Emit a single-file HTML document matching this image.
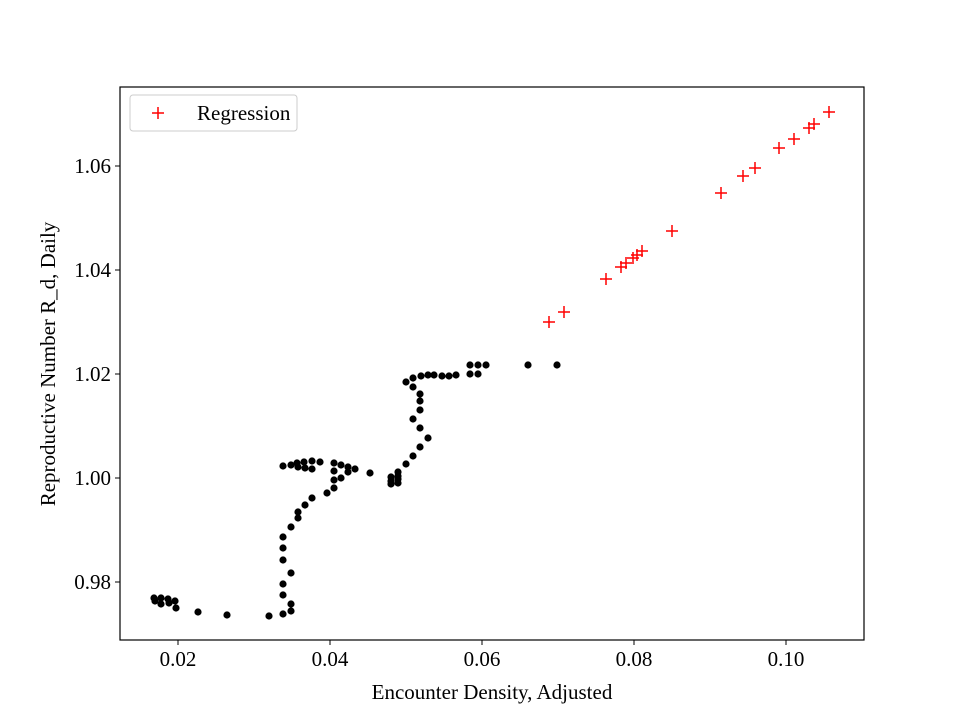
<!DOCTYPE html>
<html><head><style>body{margin:0;background:#fff}svg{display:block}text{font-family:"Liberation Serif",serif;font-size:21px;fill:#000}</style></head><body>
<svg width="960" height="720" viewBox="0 0 960 720">
<rect width="960" height="720" fill="#fff"/>
<g fill="#000" id="pts"></g>
<g stroke="red" stroke-width="1.5" id="rx"></g>
<rect x="120" y="87" width="744" height="553" fill="none" stroke="#000" stroke-width="1.2"/>
<g stroke="#000" stroke-width="1">
<line x1="178" y1="640" x2="178" y2="645"/><line x1="330" y1="640" x2="330" y2="645"/><line x1="482" y1="640" x2="482" y2="645"/><line x1="634" y1="640" x2="634" y2="645"/><line x1="786" y1="640" x2="786" y2="645"/>
<line x1="115" y1="166" x2="120" y2="166"/><line x1="115" y1="270" x2="120" y2="270"/><line x1="115" y1="374" x2="120" y2="374"/><line x1="115" y1="478" x2="120" y2="478"/><line x1="115" y1="582" x2="120" y2="582"/>
</g>
<g text-anchor="middle">
<text x="178" y="666">0.02</text><text x="330" y="666">0.04</text><text x="482" y="666">0.06</text><text x="634" y="666">0.08</text><text x="786" y="666">0.10</text>
<text x="492" y="699">Encounter Density, Adjusted</text>
</g>
<g text-anchor="end">
<text x="111" y="173">1.06</text><text x="111" y="277">1.04</text><text x="111" y="381">1.02</text><text x="111" y="485">1.00</text><text x="111" y="589">0.98</text>
</g>
<text transform="translate(55,364) rotate(-90)" text-anchor="middle">Reproductive Number R_d, Daily</text>
<rect x="130" y="95" width="167" height="36" rx="3" fill="#fff" stroke="#ccc"/>
<g stroke="red" stroke-width="1.5"><line x1="152" y1="113" x2="164" y2="113"/><line x1="158" y1="107" x2="158" y2="119"/></g>
<text x="197" y="120">Regression</text>
</svg>
<script>
var b=[[154,598],[155,601],[161,598],[161,604],[168,599],[169,603],[175,601],[176,608],[198,612],[227,615],[269,616],[283,614],[291,611],[291,604],[283,595],[283,584],[291,573],[283,560],[283,548],[283,537],[291,527],[298,518],[298,512],[305,505],[312,498],[327,493],[334,488],[334,480],[341,478],[348,472],[348,467],[355,469],[370,473],
[283,466],[291,465],[297,463],[298,467],[304,462],[305,468],[312,461],[312,469],[320,462],[334,463],[334,471],[341,465],
[391,477],[391,481],[391,484],[398,476],[398,483],[398,479],[398,472],[406,464],[413,456],[420,447],[428,438],[420,428],[413,419],[420,410],[420,401],[420,394],[413,387],[406,382],[413,378],[421,376],[428,375],[434,375],[442,376],[449,376],[456,375],[470,365],[470,374],[478,365],[478,374],[486,365],[528,365],[557,365]];
var r=[[549,322],[564,312],[606,279],[621,267],[626,263],[633,258],[637,255],[642,251],[672,231],[721,193],[743,176],[755,168],[779,148],[794,139],[809,128],[814,124],[829,112]];
var ns="http://www.w3.org/2000/svg",g=document.getElementById("pts"),h=document.getElementById("rx");
b.forEach(function(p){var c=document.createElementNS(ns,"circle");c.setAttribute("cx",p[0]);c.setAttribute("cy",p[1]);c.setAttribute("r",3.6);g.appendChild(c);});
r.forEach(function(p){var l=document.createElementNS(ns,"path");l.setAttribute("d","M"+(p[0]-6)+" "+p[1]+"h12M"+p[0]+" "+(p[1]-6)+"v12");h.appendChild(l);});
</script>
</body></html>
